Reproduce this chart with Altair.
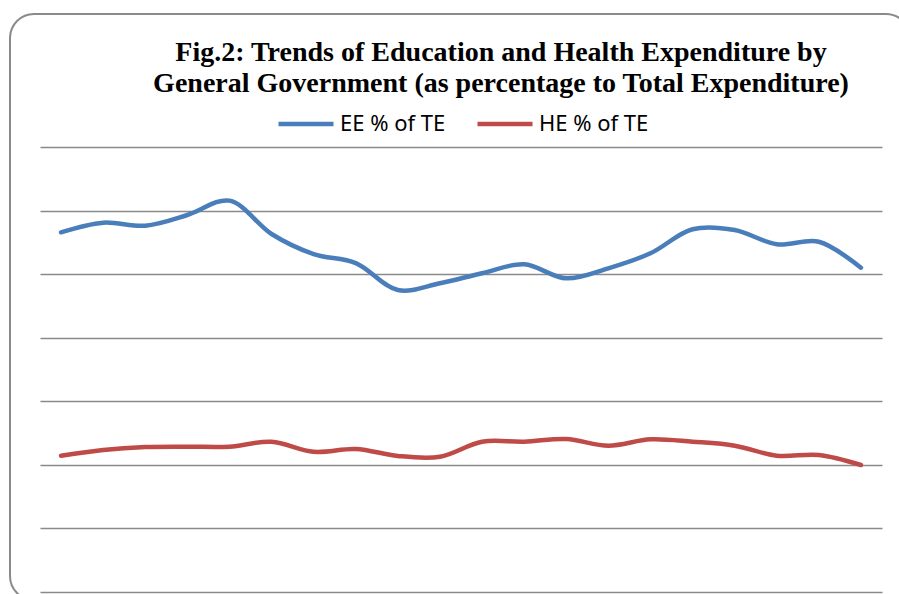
import altair as alt
import pandas as pd

# Data (x-axis labels are not visible in the reference)
periods = list(range(1991, 2011))
ee_values = [28.29, 29.05, 28.81, 29.65, 30.78, 28.16, 26.58, 25.87, 23.75, 24.28,
             25.07, 25.77, 24.67, 25.46, 26.64, 28.53, 28.47, 27.35, 27.55, 25.51]
he_values = [10.72, 11.17, 11.40, 11.43, 11.43, 11.82, 11.03, 11.25, 10.70, 10.64,
             11.82, 11.82, 12.03, 11.51, 12.01, 11.82, 11.51, 10.72, 10.78, 9.99]
series_names = ["EE % of TE", "HE % of TE"]
series_colors = ["#4a7ebb", "#be4b48"]
y_ticks = [0, 5, 10, 15, 20, 25, 30, 35]
title_lines = ["Fig.2: Trends of Education and Health Expenditure by",
               "General Government (as percentage to Total Expenditure)"]

df = pd.DataFrame({
    "period": periods * 2,
    "value": ee_values + he_values,
    "series": [series_names[0]] * len(periods) + [series_names[1]] * len(periods),
})

W, H = 842, 445

lines = alt.Chart(df).mark_line(
    strokeWidth=4.5, strokeCap="round", interpolate="catmull-rom"
).encode(
    x=alt.X("period:O", scale=alt.Scale(type="point", padding=0.5), axis=None),
    y=alt.Y("value:Q", scale=alt.Scale(domain=[0, 35], nice=False, zero=True),
            axis=alt.Axis(values=y_ticks, grid=True, gridColor="#8a8a8a", gridWidth=1.7,
                          labels=False, ticks=False, domain=False, title=None)),
    color=alt.Color("series:N",
                    scale=alt.Scale(domain=series_names, range=series_colors),
                    legend=alt.Legend(orient="none", legendX=236, legendY=-53,
                                      direction="horizontal", title=None,
                                      symbolType="stroke", symbolSize=3025,
                                      symbolStrokeWidth=4.5, labelFont="Noto Sans",
                                      labelFontSize=22, labelColor="#000000",
                                      labelOffset=4, columnPadding=22, padding=0)),
)

one = pd.DataFrame({"a": [0]})

title = alt.Chart(one).mark_text(
    text=title_lines, font="Liberation Serif", fontSize=28, fontWeight="bold",
    lineHeight=31, align="center", baseline="alphabetic", color="#000000"
).encode(x=alt.value(461), y=alt.value(-86))

border = alt.Chart(one).mark_rect(
    fill=None, fillOpacity=0, stroke="#8a8a8a", strokeWidth=2, cornerRadius=24
).encode(x=alt.value(-30), x2=alt.value(870), y=alt.value(-133), y2=alt.value(453))

chart = alt.layer(border, lines, title).properties(
    width=W, height=H,
    background="white",
    autosize=alt.AutoSizeParams(type="none"),
    padding={"left": 40, "top": 147, "right": 17, "bottom": 2},
).configure_view(stroke=None)

chart.save("out.html", embed_options={"renderer": "svg", "actions": False})
